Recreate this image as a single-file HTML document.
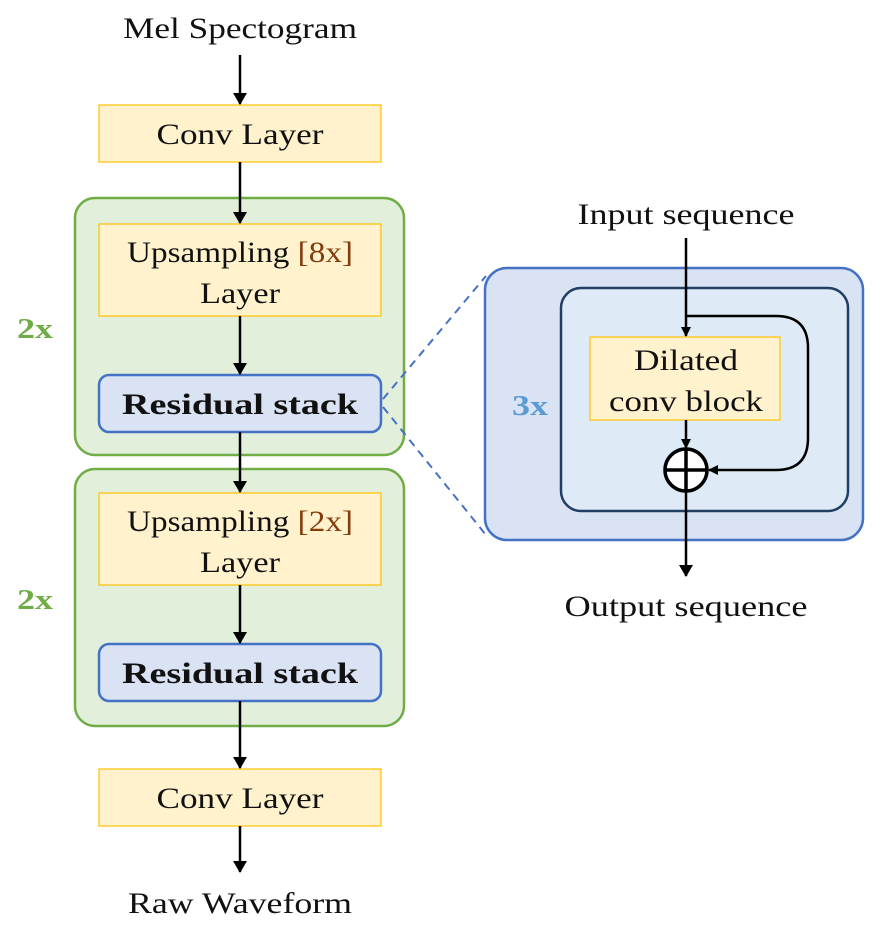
<!DOCTYPE html>
<html><head><style>body{margin:0;background:#fff}svg{display:block}</style></head><body>
<svg width="891" height="929" viewBox="0 0 891 929" xmlns="http://www.w3.org/2000/svg" font-family="'Liberation Serif', serif">
<defs><marker id="a" markerWidth="10" markerHeight="10" refX="9" refY="5" orient="auto" markerUnits="userSpaceOnUse"><path d="M0,0 L10,5 L0,10 Z" fill="#000"/></marker>
<marker id="b" markerWidth="12" markerHeight="14" refX="11" refY="7" orient="auto" markerUnits="userSpaceOnUse"><path d="M0,0 L12,7 L0,14 Z" fill="#000"/></marker></defs>
<rect x="75" y="198" width="329" height="257" rx="20" fill="#e2efda" stroke="#70ad47" stroke-width="2.5"/>
<rect x="75" y="469" width="329" height="257" rx="20" fill="#e2efda" stroke="#70ad47" stroke-width="2.5"/>
<g fill="#fff2cc" stroke="#ffc000" stroke-width="1.2">
<rect x="99" y="105" width="282" height="57"/>
<rect x="99" y="224" width="282" height="92"/>
<rect x="99" y="493" width="282" height="92"/>
<rect x="99" y="769" width="282" height="57"/>
</g>
<g fill="#dae3f3" stroke="#4472c4" stroke-width="2.5">
<rect x="99" y="375" width="282" height="57" rx="10"/>
<rect x="99" y="644" width="282" height="57" rx="10"/>
</g>
<g stroke="#000" stroke-width="2.5" fill="none" marker-end="url(#b)">
<line x1="240" y1="55" x2="240" y2="104"/>
<line x1="240" y1="162" x2="240" y2="223"/>
<line x1="240" y1="316" x2="240" y2="374"/>
<line x1="240" y1="432" x2="240" y2="492"/>
<line x1="240" y1="585" x2="240" y2="643"/>
<line x1="240" y1="701" x2="240" y2="768"/>
<line x1="240" y1="826" x2="240" y2="872"/>
</g>
<g font-size="30" text-anchor="middle" fill="#111" lengthAdjust="spacingAndGlyphs">
<text x="240" y="38" textLength="234" lengthAdjust="spacingAndGlyphs">Mel Spectogram</text>
<text x="240" y="913" textLength="224" lengthAdjust="spacingAndGlyphs">Raw Waveform</text>
<text x="686" y="224" textLength="217" lengthAdjust="spacingAndGlyphs">Input sequence</text>
<text x="686" y="616" textLength="243" lengthAdjust="spacingAndGlyphs">Output sequence</text>
<text x="240" y="144" textLength="167" lengthAdjust="spacingAndGlyphs">Conv Layer</text>
<text x="240" y="808" textLength="167" lengthAdjust="spacingAndGlyphs">Conv Layer</text>
<text x="240" y="262" textLength="226" lengthAdjust="spacingAndGlyphs">Upsampling <tspan fill="#843c0c">[8x]</tspan></text>
<text x="240" y="303" textLength="80" lengthAdjust="spacingAndGlyphs">Layer</text>
<text x="240" y="531" textLength="226" lengthAdjust="spacingAndGlyphs">Upsampling <tspan fill="#843c0c">[2x]</tspan></text>
<text x="240" y="572" textLength="80" lengthAdjust="spacingAndGlyphs">Layer</text>
<text x="240" y="414" font-weight="bold" textLength="236" lengthAdjust="spacingAndGlyphs">Residual stack</text>
<text x="240" y="683" font-weight="bold" textLength="236" lengthAdjust="spacingAndGlyphs">Residual stack</text>
</g>
<g font-size="28" font-weight="bold" fill="#70ad47" text-anchor="middle">
<text x="35" y="338" textLength="36" lengthAdjust="spacingAndGlyphs">2x</text><text x="35" y="609" textLength="36" lengthAdjust="spacingAndGlyphs">2x</text></g>
<g stroke="#4472c4" stroke-width="2" stroke-dasharray="8,6">
<line x1="383" y1="399" x2="486" y2="276"/>
<line x1="383" y1="407" x2="486" y2="535"/>
</g>
<rect x="485" y="268" width="378" height="272" rx="22" fill="#dae3f3" stroke="#4472c4" stroke-width="2.5"/>
<rect x="561" y="288" width="287" height="223" rx="20" fill="#deebf7" stroke="#203f63" stroke-width="2.5"/>
<text x="530" y="415" font-size="28" font-weight="bold" fill="#5b9bd5" text-anchor="middle" textLength="36" lengthAdjust="spacingAndGlyphs">3x</text>
<rect x="590" y="337" width="190" height="83" fill="#fff2cc" stroke="#ffc000" stroke-width="1.2"/>
<g font-size="30" text-anchor="middle" fill="#111">
<text x="686" y="370" textLength="104" lengthAdjust="spacingAndGlyphs">Dilated</text><text x="686" y="411" textLength="154" lengthAdjust="spacingAndGlyphs">conv block</text></g>
<g stroke="#000" stroke-width="2.5" fill="none">
<line x1="686" y1="238" x2="686" y2="336" marker-end="url(#a)"/>
<path d="M686,316 H776 Q808,316 808,348 V438 Q808,470 776,470 H709" marker-end="url(#a)"/>
<line x1="686" y1="420" x2="686" y2="448" marker-end="url(#a)"/>
<line x1="686" y1="491" x2="686" y2="576" marker-end="url(#b)"/>
</g>
<circle cx="686" cy="470" r="21" fill="#fff" stroke="#000" stroke-width="3.5"/>
<g stroke="#000" stroke-width="3.5"><line x1="665" y1="470" x2="707" y2="470"/><line x1="686" y1="449" x2="686" y2="491"/></g>
</svg>
</body></html>
